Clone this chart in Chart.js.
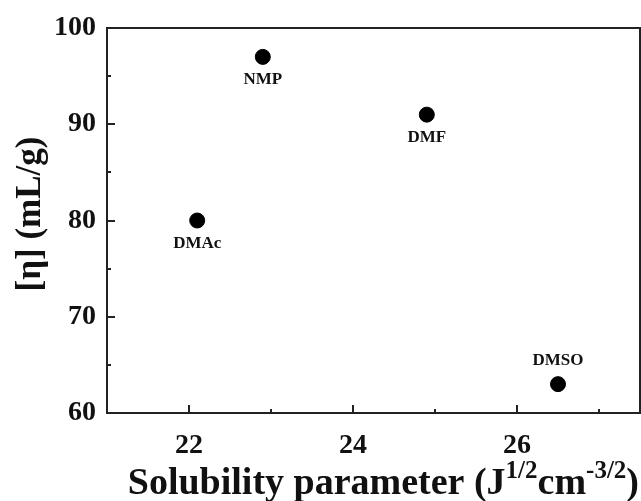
<!DOCTYPE html>
<html>
<head>
<meta charset="utf-8">
<script src="https://cdn.jsdelivr.net/npm/chart.js@4"></script>
<style>
  html, body { margin: 0; padding: 0; background: #fff; }
  #wrap { width: 641px; height: 501px; }
</style>
</head>
<body>
<div id="wrap"><canvas id="myChart" width="641" height="501"></canvas></div>
<script>
const solvents = ['DMAc', 'NMP', 'DMF', 'DMSO'];
const solubility = [22.1, 22.9, 24.9, 26.5];
const viscosity = [80, 97, 91, 63];
const labelSide = ['below', 'below', 'below', 'above'];
const xTicks = [22, 24, 26];
const xMinorTicks = [23, 25, 27];
const yMinorTicks = [65, 75, 85, 95];

const serif = '"Liberation Serif", "DejaVu Serif", serif';

// inward ticks, frame, point labels and axis titles
const decorPlugin = {
    id: 'decor',
    afterDraw(chart) {
        const ctx = chart.ctx;
        const area = chart.chartArea;
        const xs = chart.scales.x;
        const ys = chart.scales.y;
        ctx.save();
        ctx.strokeStyle = '#222';
        ctx.lineWidth = 2;
        ctx.strokeRect(area.left, area.top, area.right - area.left, area.bottom - area.top);

        ctx.beginPath();
        xTicks.forEach(v => {
            const px = Math.round(xs.getPixelForValue(v));
            ctx.moveTo(px, area.bottom); ctx.lineTo(px, area.bottom - 8);
        });
        xMinorTicks.forEach(v => {
            const px = Math.round(xs.getPixelForValue(v));
            ctx.moveTo(px, area.bottom); ctx.lineTo(px, area.bottom - 4);
        });
        ys.ticks.forEach(t => {
            const py = Math.round(ys.getPixelForValue(t.value));
            ctx.moveTo(area.left, py); ctx.lineTo(area.left + 8, py);
        });
        yMinorTicks.forEach(v => {
            const py = Math.round(ys.getPixelForValue(v));
            ctx.moveTo(area.left, py); ctx.lineTo(area.left + 4, py);
        });
        ctx.stroke();

        // point labels
        ctx.fillStyle = '#111';
        ctx.font = 'bold 17px ' + serif;
        ctx.textAlign = 'center';
        ctx.textBaseline = 'middle';
        const meta = chart.getDatasetMeta(0);
        meta.data.forEach((pt, i) => {
            const dy = labelSide[i] === 'above' ? -24 : 23;
            ctx.fillText(solvents[i], pt.x, pt.y + dy);
        });

        // y title
        ctx.save();
        ctx.translate(31, 214);
        ctx.rotate(-Math.PI / 2);
        ctx.font = 'bold 35px ' + serif;
        ctx.textAlign = 'center';
        ctx.textBaseline = 'middle';
        ctx.fillText('[η] (mL/g)', 0, 0);
        ctx.restore();

        // x title with superscripts
        const base = 494;
        const parts = [
            ['Solubility parameter (J', 38, 0],
            ['1/2', 25, -16],
            ['cm', 38, 0],
            ['-3/2', 25, -16],
            [')', 38, 0]
        ];
        ctx.textAlign = 'left';
        ctx.textBaseline = 'alphabetic';
        let total = 0;
        parts.forEach(p => { ctx.font = 'bold ' + p[1] + 'px ' + serif; total += ctx.measureText(p[0]).width; });
        let x = 639 - total;
        parts.forEach(p => {
            ctx.font = 'bold ' + p[1] + 'px ' + serif;
            ctx.fillText(p[0], x, base + p[2]);
            x += ctx.measureText(p[0]).width;
        });
        ctx.restore();
    }
};

const ctx = document.getElementById('myChart').getContext('2d');
const myChart = new Chart(ctx, {
    type: 'scatter',
    data: {
        datasets: [{
            label: 'viscosity',
            data: solubility.map((s, i) => ({ x: s, y: viscosity[i] })),
            backgroundColor: '#000',
            borderColor: '#000',
            pointRadius: 7.5,
            pointHoverRadius: 7.5
        }]
    },
    options: {
        responsive: false,
        animation: false,
        layout: { autoPadding: false, padding: { top: 28, right: 1, left: 0, bottom: 0 } },
        plugins: {
            legend: { display: false },
            tooltip: { enabled: false }
        },
        scales: {
            x: {
                type: 'linear',
                min: 21,
                max: 27.5,
                afterBuildTicks: (scale) => { scale.ticks = xTicks.map(v => ({ value: v })); },
                afterFit: (scale) => {
                    scale.height = 88;
                    scale.paddingLeft = 0;
                    scale.paddingRight = 0;
                },
                grid: { display: false, drawTicks: false },
                border: { display: false },
                ticks: {
                    color: '#111',
                    padding: 16,
                    maxRotation: 0,
                    font: { family: serif, size: 28, weight: 'bold' }
                }
            },
            y: {
                min: 60,
                max: 100,
                ticks: {
                    stepSize: 10,
                    color: '#111',
                    padding: 11,
                    font: { family: serif, size: 28, weight: 'bold' }
                },
                afterFit: (scale) => {
                    scale.width = 107;
                    scale.paddingTop = 0;
                    scale.paddingBottom = 0;
                },
                grid: { display: false, drawTicks: false },
                border: { display: false }
            }
        }
    },
    plugins: [decorPlugin]
});
</script>
</body>
</html>
